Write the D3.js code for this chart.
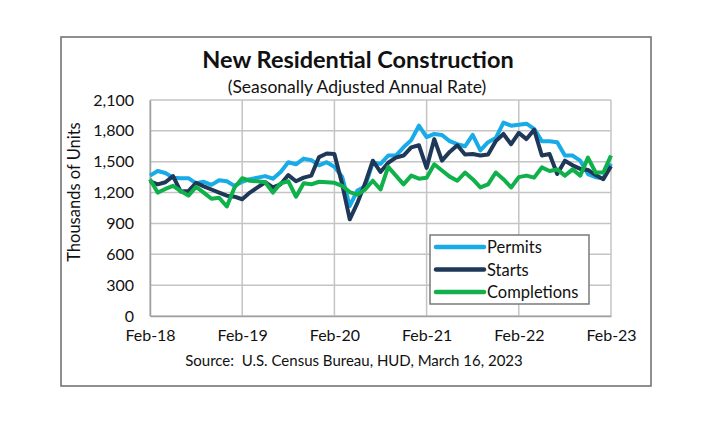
<!DOCTYPE html>
<html>
<head>
<meta charset="utf-8">
<script src="https://cdn.jsdelivr.net/npm/d3@7"></script>
<style>
  body { margin: 0; background: #fff; }
  svg { font-family: Lato, "Open Sans", sans-serif; }
</style>
</head>
<body>
<svg id="chart" width="714" height="430"></svg>
<script>
// --- data (thousands of units, SAAR), monthly Feb-18 .. Feb-23 ---
const tickLabels = ['Feb-18', 'Feb-19', 'Feb-20', 'Feb-21', 'Feb-22', 'Feb-23'];
const yTicks = [0, 300, 600, 900, 1200, 1500, 1800, 2100];

const permits = [
  1365, 1410, 1390, 1345, 1340, 1340, 1290, 1305, 1275, 1320, 1310, 1265,
  1305, 1330, 1345, 1360, 1335, 1400, 1495, 1475, 1530, 1515, 1465, 1495,
  1450, 1355, 1070, 1220, 1260, 1490, 1480, 1560, 1560, 1640, 1710, 1850,
  1740, 1770, 1760, 1700, 1670, 1650, 1760, 1610, 1690, 1730, 1880, 1850,
  1860, 1870, 1820, 1700, 1700, 1690, 1560, 1560, 1510, 1380, 1350, 1340, 1480
];
const starts = [
  1310, 1280, 1300, 1360, 1210, 1215, 1295, 1260, 1230, 1200, 1170, 1160,
  1135, 1200, 1250, 1300, 1250, 1280, 1370, 1310, 1345, 1365, 1545, 1580,
  1575, 1285, 940, 1100, 1290, 1510, 1400, 1490, 1540, 1560, 1640, 1660,
  1440, 1720, 1510, 1595, 1660, 1570, 1575, 1560, 1570, 1700, 1770, 1670,
  1780, 1720, 1810, 1560, 1575, 1380, 1510, 1465, 1430, 1420, 1370, 1330, 1455
];
const completions = [
  1330, 1200, 1235, 1265, 1215, 1170, 1255, 1200, 1140, 1150, 1065, 1250,
  1340, 1315, 1310, 1300, 1200, 1290, 1310, 1160, 1290, 1280, 1305, 1300,
  1295, 1265, 1205, 1180, 1230, 1315, 1230, 1450, 1365, 1280, 1365, 1335,
  1345, 1475, 1415, 1355, 1315, 1395, 1330, 1250, 1280, 1395, 1330, 1250,
  1350, 1365, 1345, 1445, 1410, 1425, 1365, 1425, 1365, 1540, 1395, 1395, 1560
];

const series = [
  { name: 'Permits', values: permits, color: '#17abe8' },
  { name: 'Starts', values: starts, color: '#1f3858' },
  { name: 'Completions', values: completions, color: '#10b04a' }
];

// --- layout ---
const plot = { left: 150, right: 611, top: 100, bottom: 316 };
const svg = d3.select('#chart');

// outer frame
svg.append('rect')
  .attr('x', 61).attr('y', 37)
  .attr('width', 590).attr('height', 349)
  .attr('fill', '#fff')
  .attr('stroke', '#6b6b6b')
  .attr('stroke-width', 1.5);

const x = d3.scaleLinear().domain([0, permits.length - 1]).range([plot.left, plot.right]);
const y = d3.scaleLinear().domain([0, 2100]).range([plot.bottom, plot.top]);

// gridlines
const grid = svg.append('g');
grid.selectAll('.hg').data(yTicks).join('line')
  .attr('x1', plot.left).attr('x2', plot.right)
  .attr('y1', d => y(d)).attr('y2', d => y(d))
  .attr('stroke', '#c4c4c4').attr('stroke-width', 1.5);
grid.selectAll('.vg').data(tickLabels).join('line')
  .attr('x1', (d, i) => x(i * 12)).attr('x2', (d, i) => x(i * 12))
  .attr('y1', plot.top).attr('y2', plot.bottom)
  .attr('stroke', '#c4c4c4').attr('stroke-width', 1.5);

// axes
const yAxis = d3.axisLeft(y).tickValues(yTicks).tickSize(0).tickPadding(16)
  .tickFormat(d3.format(','));
const yG = svg.append('g').attr('transform', `translate(${plot.left},0)`).call(yAxis);
yG.select('.domain').attr('stroke', '#a0a0a0').attr('stroke-width', 1.5);
yG.selectAll('text').attr('font-size', 16).attr('fill', '#111').attr('font-family', 'Lato');

const xAxis = d3.axisBottom(x).tickValues(d3.range(0, 61, 12)).tickSize(0).tickPadding(14)
  .tickFormat((d, i) => tickLabels[i]);
const xG = svg.append('g').attr('transform', `translate(0,${plot.bottom})`).call(xAxis);
xG.select('.domain').attr('stroke', '#a0a0a0').attr('stroke-width', 1.5);
xG.selectAll('text').attr('font-size', 16).attr('fill', '#111').attr('font-family', 'Lato');

// lines
const line = d3.line().x((d, i) => x(i)).y(d => y(d));
svg.append('g').selectAll('path').data(series).join('path')
  .attr('d', d => line(d.values))
  .attr('fill', 'none')
  .attr('stroke', d => d.color)
  .attr('stroke-width', 4)
  .attr('stroke-linejoin', 'round');

// titles
svg.append('text').attr('x', 358).attr('y', 68).attr('text-anchor', 'middle')
  .attr('font-size', 23.5).attr('font-weight', 700).attr('fill', '#111')
  .text('New Residential Construction');
svg.append('text').attr('x', 357).attr('y', 93).attr('text-anchor', 'middle')
  .attr('font-size', 17.5).attr('fill', '#111')
  .text('(Seasonally Adjusted Annual Rate)');
svg.append('text')
  .attr('transform', `translate(80,${(plot.top + plot.bottom) / 2 - 16}) rotate(-90)`)
  .attr('text-anchor', 'middle').attr('font-size', 16.5).attr('fill', '#111')
  .text('Thousands of Units');
svg.append('text').attr('x', 354).attr('y', 366).attr('text-anchor', 'middle')
  .attr('font-size', 15).attr('fill', '#111').attr('xml:space', 'preserve')
  .text('Source:  U.S. Census Bureau, HUD, March 16, 2023');

// legend
const lg = svg.append('g').attr('transform', 'translate(430,235)');
lg.append('rect').attr('width', 159).attr('height', 69)
  .attr('fill', '#fff').attr('stroke', '#7a7a7a').attr('stroke-width', 1.5);
const items = lg.selectAll('g.item').data(series).join('g')
  .attr('transform', (d, i) => `translate(0,${12 + i * 22.5})`);
items.append('line').attr('x1', 6).attr('x2', 54)
  .attr('stroke', d => d.color).attr('stroke-width', 4.5).attr('stroke-linecap', 'round');
items.append('text').attr('x', 57).attr('y', 6)
  .attr('font-size', 16.5).attr('fill', '#111').text(d => d.name);
</script>
</body>
</html>
